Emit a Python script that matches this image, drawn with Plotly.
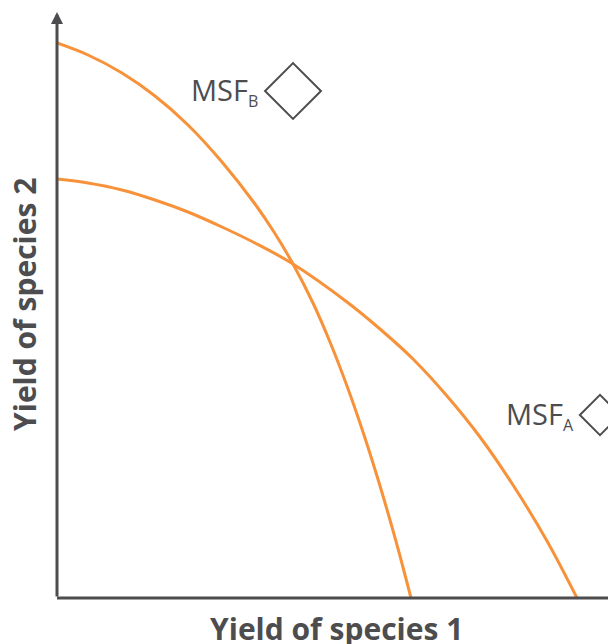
import plotly.graph_objects as go

# curve values (yield units, origin at the axes corner)
curve_b_x = [0, 31, 65, 98, 131, 165, 198, 217, 236, 256, 273, 290, 306, 320, 333, 343, 354]
curve_b_y = [555, 543, 525, 502, 473, 436, 394, 366, 334, 295, 256, 212, 166, 122, 78, 42, 0]

curve_a_x = [0, 31, 65, 98, 131, 165, 198, 236, 290, 323, 356, 390, 423, 456, 490, 520]
curve_a_y = [419, 415, 408, 398, 386, 371, 355, 334, 296, 269, 239, 202, 161, 113, 57, 0]

# MSF points (open diamonds)
msf_b = (236, 507)
msf_a = (543, 183)

orange = '#F7923A'
grey = '#4D4D4F'

fig = go.Figure()

for cx, cy in [(curve_b_x, curve_b_y), (curve_a_x, curve_a_y)]:
    fig.add_trace(go.Scatter(x=cx, y=cy, mode='lines',
                             line=dict(color=orange, width=3, shape='spline', smoothing=1.0),
                             showlegend=False, hoverinfo='skip'))

fig.add_trace(go.Scatter(x=[msf_b[0]], y=[msf_b[1]], mode='markers',
                         marker=dict(symbol='diamond-open', size=43, color=grey,
                                     line=dict(width=2, color=grey)),
                         showlegend=False, cliponaxis=False))
fig.add_trace(go.Scatter(x=[msf_a[0]], y=[msf_a[1]], mode='markers',
                         marker=dict(symbol='diamond-open', size=31, color=grey,
                                     line=dict(width=2, color=grey)),
                         showlegend=False, cliponaxis=False))

# labels next to the diamonds
sub = '<sub><span style="font-size:16px">%s</span></sub>'
fig.add_annotation(x=203, y=msf_b[1], xref='x', yref='y', xanchor='right', yanchor='middle',
                   text='MSF' + sub % 'B', showarrow=False,
                   font=dict(family='Open Sans', size=29, color=grey))
fig.add_annotation(x=519, y=msf_a[1], xref='x', yref='y', xanchor='right', yanchor='middle',
                   text='MSF' + sub % 'A', showarrow=False,
                   font=dict(family='Open Sans', size=29, color=grey))

# axes: x line + y arrow
fig.add_shape(type='line', xref='paper', yref='paper', x0=0, x1=1, y0=0, y1=0,
              line=dict(color=grey, width=3))
fig.add_annotation(xref='paper', yref='paper', x=0, y=1, ax=0, ay=586,
                   axref='pixel', ayref='pixel', text='', showarrow=True,
                   arrowhead=2, arrowsize=0.8, arrowwidth=3, arrowcolor=grey)

# axis titles
title_font = dict(family='Open Sans', size=30, color=grey, weight=800)
fig.add_annotation(xref='paper', yref='paper', x=0.5, y=0, yshift=-30,
                   xanchor='center', yanchor='middle', showarrow=False,
                   text='<b>Yield of species 1</b>', font=title_font)
fig.add_annotation(xref='paper', yref='paper', x=0, y=0.5, xshift=-33,
                   xanchor='center', yanchor='middle', showarrow=False, textangle=-90,
                   text='<b>Yield of species 2</b>', font=title_font)

fig.update_layout(
    width=608, height=636,
    margin=dict(l=49, r=0, t=4, b=46),
    plot_bgcolor='white', paper_bgcolor='white',
    xaxis=dict(range=[0, 559], showgrid=False, zeroline=False, showticklabels=False, ticks=''),
    yaxis=dict(range=[0, 586], showgrid=False, zeroline=False, showticklabels=False, ticks=''),
)

fig.write_html("out.html")
